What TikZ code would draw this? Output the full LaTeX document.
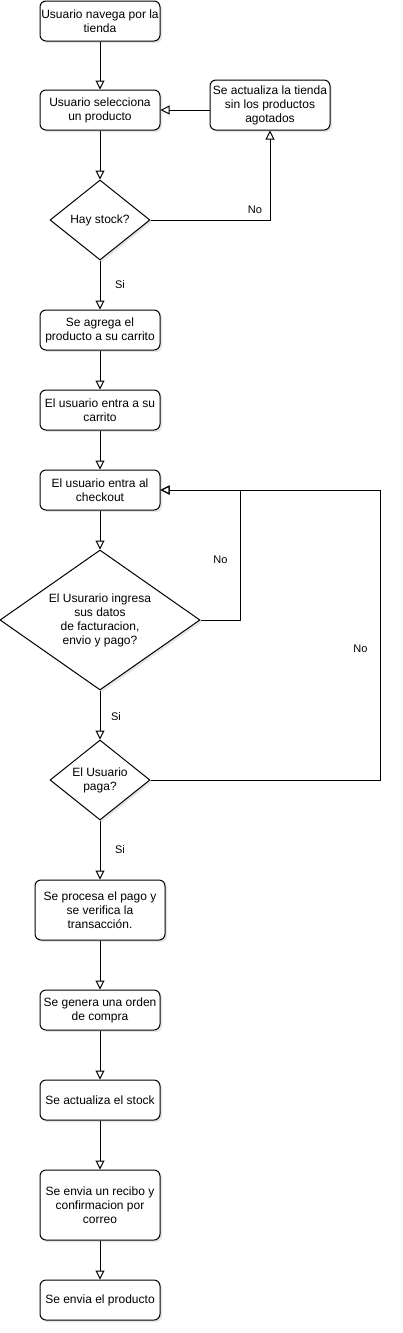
\documentclass[tikz,border=0pt]{standalone}
\usepackage{fontspec}
\setmainfont{Liberation Sans}
\usetikzlibrary{shapes.geometric,arrows.meta,shadows}
\tikzset{mybox/.style={draw,fill=white,rounded corners=6pt,align=center,inner sep=0pt,minimum width=120pt,minimum height=40pt,drop shadow={opacity=0.2,shadow xshift=2pt,shadow yshift=-2pt}},
mydiamond/.style={draw,diamond,fill=white,align=center,inner sep=0pt,aspect=1.25,drop shadow={opacity=0.2,shadow xshift=2pt,shadow yshift=-2pt}},
mylabel/.style={inner sep=0pt,font=\fontsize{11}{13}\selectfont},
myarrow/.style={-{Triangle[open,length=9pt,width=9pt]}}}
\begin{document}
\begin{tikzpicture}[x=1pt,y=-1pt,line width=1pt,font=\fontsize{12}{14}\selectfont]
\useasboundingbox (0,0) rectangle (403,1333);
\node[mybox] (navega) at (100,21) {Usuario navega por la\\tienda};
\node[mybox] (selecciona) at (100,110) {Usuario selecciona\\un producto};
\node[mybox,minimum height=50pt] (actualiza) at (270,105) {Se actualiza la tienda\\sin los productos\\agotados};
\node[mydiamond,minimum width=100pt,minimum height=80pt] (stock) at (100,220) {Hay stock?};
\node[mybox] (agrega) at (100,330) {Se agrega el\\producto a su carrito};
\node[mybox] (carrito) at (100,410) {El usuario entra a su\\carrito};
\node[mybox] (checkout) at (100,490) {El usuario entra al\\checkout};
\node[mydiamond,minimum width=200pt,minimum height=140pt,aspect=1.43] (datos) at (100,620) {El Usurario ingresa\\sus datos\\de facturacion,\\envio y pago?};
\node[mydiamond,minimum width=100pt,minimum height=80pt] (paga) at (100,780) {El Usuario\\paga?};
\node[mybox,minimum width=130pt,minimum height=60pt] (procesa) at (100,910) {Se procesa el pago y\\se verifica la\\transacción.};
\node[mybox] (orden) at (100,1010) {Se genera una orden\\de compra};
\node[mybox] (actstock) at (100,1100) {Se actualiza el stock};
\node[mybox,minimum height=70pt] (recibo) at (100,1205) {Se envia un recibo y\\confirmacion por\\correo};
\node[mybox] (envio) at (100,1300) {Se envia el producto};
% flujo principal
\draw[myarrow] (navega.south) -- (selecciona.north);
\draw[myarrow] (selecciona.south) -- (stock.north);
\draw[myarrow] (stock.south) -- node[mylabel,xshift=20pt]{Si} (agrega.north);
\draw[myarrow] (agrega.south) -- (carrito.north);
\draw[myarrow] (carrito.south) -- (checkout.north);
\draw[myarrow] (checkout.south) -- (datos.north);
\draw[myarrow] (datos.south) -- node[mylabel,xshift=16pt,yshift=-2pt]{Si} (paga.north);
\draw[myarrow] (paga.south) -- node[mylabel,xshift=20pt]{Si} (procesa.north);
\draw[myarrow] (procesa.south) -- (orden.north);
\draw[myarrow] (orden.south) -- (actstock.north);
\draw[myarrow] (actstock.south) -- (recibo.north);
\draw[myarrow] (recibo.south) -- (envio.north);
% ramas "No"
\draw[myarrow] (stock.east) -| node[mylabel,pos=0.5,xshift=-15pt,yshift=10pt]{No} (actualiza.south);
\draw[myarrow] (actualiza.west |- selecciona.east) -- (selecciona.east);
\draw[myarrow] (datos.east) -- ++(40,0) |- node[mylabel,pos=0.23,xshift=-20pt]{No} (checkout.east);
\draw[myarrow] (paga.east) -- ++(230,0) |- node[mylabel,pos=0.226,xshift=-20pt]{No} (checkout.east);
\end{tikzpicture}
\end{document}
